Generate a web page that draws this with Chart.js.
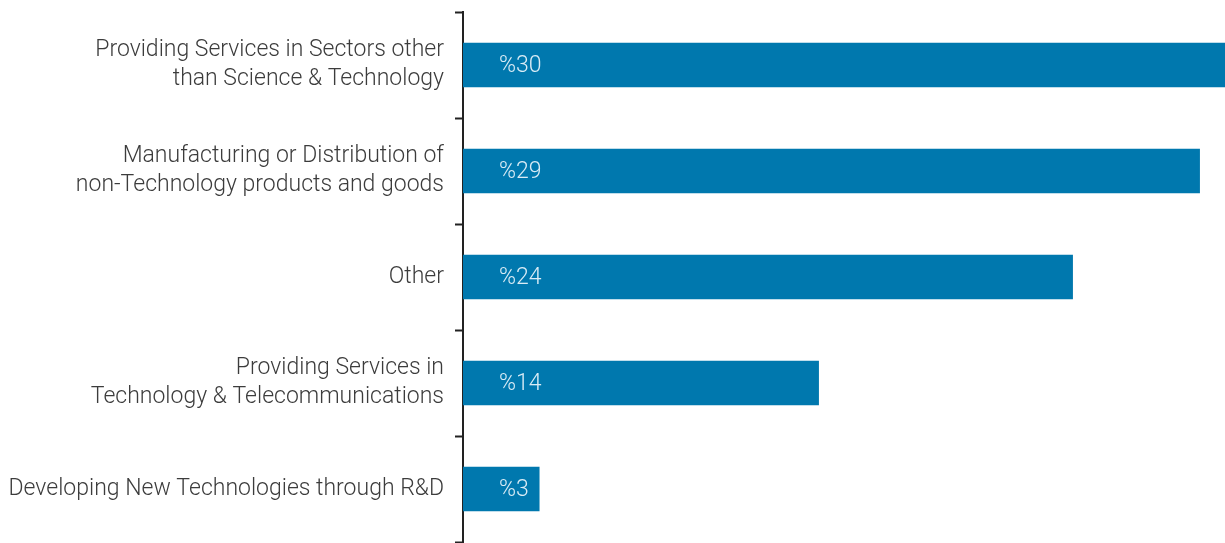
<!DOCTYPE html>
<html>
<head>
<meta charset="utf-8">
<script src="https://cdn.jsdelivr.net/npm/chart.js@4.4.1/dist/chart.umd.min.js"></script>
<style>
  html, body { margin: 0; padding: 0; background: #fff; }
  #wrap { width: 1225px; height: 543px; position: relative; }
</style>
</head>
<body>
<div id="wrap"><canvas id="activityChart"></canvas></div>
<script>
const categories = [
  ['Providing Services in Sectors other', 'than Science & Technology'],
  ['Manufacturing or Distribution of', 'non-Technology products and goods'],
  'Other',
  ['Providing Services in', 'Technology & Telecommunications'],
  'Developing New Technologies through R&D'
];
const shares = [30, 29, 24, 14, 3];
const xMax = 30;

const fontStack = 'Roboto, "Open Sans", sans-serif';
const labelFont = { family: fontStack, size: 23, weight: 300, lineHeight: 1.26 };

// percentage written inside each bar, near its base
const valueLabels = {
  id: 'valueLabels',
  afterDatasetsDraw(chart) {
    const ctx = chart.ctx;
    const meta = chart.getDatasetMeta(0);
    ctx.save();
    ctx.fillStyle = 'rgba(230,242,250,0.95)';
    ctx.font = '300 23px ' + fontStack;
    ctx.textBaseline = 'middle';
    meta.data.forEach((bar, i) => {
      ctx.fillText('%' + shares[i], bar.base + 36, bar.y + 1);
    });
    ctx.restore();
  }
};

const ctx = document.getElementById('activityChart').getContext('2d');
const activityChart = new Chart(ctx, {
  type: 'bar',
  data: {
    labels: categories,
    datasets: [{
      data: shares,
      backgroundColor: '#0078AE',
      barThickness: 44
    }]
  },
  options: {
    indexAxis: 'y',
    responsive: true,
    maintainAspectRatio: false,
    animation: false,
    layout: { padding: { top: 12, bottom: 1, left: 0, right: 0 } },
    scales: {
      x: {
        display: false,
        min: 0,
        max: xMax
      },
      y: {
        afterFit(scale) {
          scale.width = 463;
          scale.paddingTop = 0;
          scale.paddingBottom = 0;
        },
        border: { display: true, color: '#222', width: 2 },
        grid: {
          offset: true,
          drawOnChartArea: false,
          drawTicks: true,
          tickLength: 8,
          tickWidth: 2,
          tickColor: '#222'
        },
        ticks: {
          color: '#3c3c3c',
          font: labelFont,
          padding: 11
        }
      }
    },
    plugins: {
      legend: { display: false },
      tooltip: { enabled: false }
    }
  },
  plugins: [valueLabels]
});
</script>
</body>
</html>
